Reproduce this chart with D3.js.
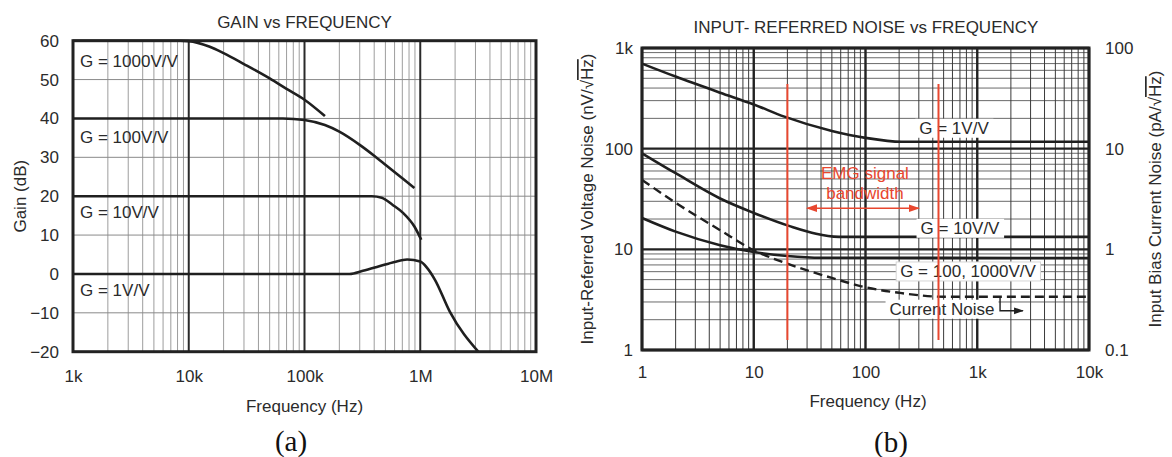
<!DOCTYPE html>
<html>
<head>
<meta charset="utf-8">
<script src="https://cdn.jsdelivr.net/npm/d3@7"></script>
<style>
  body { margin: 0; background: #fff; }
  svg text { font-family: "Liberation Sans", Arial, sans-serif; fill: #2b2b2b; }
</style>
</head>
<body>
<div id="chart-container"></div>
<script>
// ---- panel (a): gain vs frequency ----
const gainFreqTicks = [1e3, 1e4, 1e5, 1e6, 1e7];
const gainFreqLabels = ['1k', '10k', '100k', '1M', '10M'];
const gainTicks = [60, 50, 40, 30, 20, 10, 0, -10, -20];
const gainTickLabels = ['60', '50', '40', '30', '20', '10', '0', '\u221210', '\u221220'];

const gain1000 = [[1e3, 60], [8.5e3, 60], [1e4, 59.9], [1.5e4, 58.5], [2e4, 56.8], [3e4, 54.0], [5e4, 50.3], [7e4, 47.6], [1e5, 44.8], [1.5e5, 40.6]];
const gain100 = [[1e3, 40], [6.5e4, 40], [1e5, 39.6], [1.5e5, 38.3], [2e5, 36.6], [3e5, 33.2], [4e5, 30.4], [5e5, 28.1], [7e5, 24.6], [8.9e5, 22.1]];
const gain10 = [[1e3, 20], [3.8e5, 20], [4.65e5, 19.6], [5.75e5, 17.8], [7.1e5, 15.7], [8.9e5, 12.2], [1.02e6, 8.8]];
const gain1 = [[1e3, 0], [2.45e5, 0], [3.2e5, 0.8], [4.35e5, 1.9], [6e5, 3.1], [7.7e5, 3.7], [1e6, 3.2], [1.15e6, 1.5], [1.34e6, -1.5], [1.8e6, -9.7], [3.17e6, -20]];
const gainCurveNames = ['G = 1000V/V', 'G = 100V/V', 'G = 10V/V', 'G = 1V/V'];

// ---- panel (b): input-referred noise vs frequency ----
const noiseFreqTicks = [1, 10, 100, 1000, 10000];
const noiseFreqLabels = ['1', '10', '100', '1k', '10k'];
const voltTicks = [1000, 100, 10, 1];
const voltLabels = ['1k', '100', '10', '1'];
const currTicks = [100, 10, 1, 0.1];
const currLabels = ['100', '10', '1', '0.1'];

const noiseG1 = [[1, 700], [2, 520], [5, 360], [10, 275], [18.8, 208], [50, 150], [100, 128], [210, 117], [10000, 117]];
const noiseG10 = [[1, 90], [2, 57], [5, 32], [10, 23], [20, 17.3], [58, 13.3], [10000, 13.3]];
const noiseG100 = [[1, 20.5], [2, 15], [5, 11], [10, 9.4], [20, 8.6], [40, 8.25], [10000, 8.2]];
const currentNoise = [[1, 4.9], [2, 2.9], [5, 1.55], [10, 0.98], [20, 0.72], [50, 0.52], [100, 0.42], [200, 0.37], [500, 0.338], [10000, 0.338]]; // pA/rtHz
const noiseCurveNames = ['G = 1V/V', 'G = 10V/V', 'G = 100, 1000V/V', 'Current Noise'];

const emgBand = [20, 450];          // Hz
const emgBandSpan = [1.26, 440];    // nV/rtHz
const emgArrow = [30, 300];         // Hz
const emgArrowLevel = 25.6;         // nV/rtHz
const currentPointer = [[1600, 0.338], [1600, 0.245], [2560, 0.245]]; // Hz, pA/rtHz

const RED = '#e8472f';
const INK = '#1f1f1f';

const svg = d3.select('#chart-container').append('svg')
  .attr('width', 1172)
  .attr('height', 457);

const defs = svg.append('defs');
['arrow-red', 'arrow-black'].forEach((id, i) => {
  defs.append('marker')
    .attr('id', id)
    .attr('viewBox', '0 0 10 10')
    .attr('refX', 9).attr('refY', 5)
    .attr('markerWidth', 7).attr('markerHeight', 7)
    .attr('orient', 'auto-start-reverse')
    .append('path')
    .attr('d', 'M0,1.5 L10,5 L0,8.5 Z')
    .attr('fill', i === 0 ? RED : INK);
});

const isDecade = v => Math.abs(Math.log10(v) - Math.round(Math.log10(v))) < 1e-9;

const styleAxis = (g) => {
  g.select('.domain').remove();
  g.attr('font-family', '"Liberation Sans", Arial, sans-serif').attr('font-size', 17);
  g.selectAll('text').attr('fill', '#2b2b2b');
};

//==================== panel (a) ====================
const xA = d3.scaleLog().domain([1e3, 1e7]).range([73, 536]);
const yA = d3.scaleLinear().domain([-20, 60]).range([351.7, 40.7]);
const gA = svg.append('g');

gA.selectAll('.minor-x').data(xA.ticks().filter(v => !isDecade(v)))
  .enter().append('line')
  .attr('x1', d => xA(d)).attr('x2', d => xA(d))
  .attr('y1', yA(-20)).attr('y2', yA(60))
  .attr('stroke', '#9d9d9d').attr('stroke-width', 1);
gA.selectAll('.grid-y').data(gainTicks)
  .enter().append('line')
  .attr('x1', xA(1e3)).attr('x2', xA(1e7))
  .attr('y1', d => yA(d)).attr('y2', d => yA(d))
  .attr('stroke', '#8a8a8a').attr('stroke-width', 1);
gA.selectAll('.major-x').data(gainFreqTicks)
  .enter().append('line')
  .attr('x1', d => xA(d)).attr('x2', d => xA(d))
  .attr('y1', yA(-20)).attr('y2', yA(60))
  .attr('stroke', '#2a2a2a').attr('stroke-width', 2);

const lineA = d3.line()
  .x(d => xA(d[0]))
  .y(d => yA(d[1]))
  .curve(d3.curveMonotoneX);
[gain1000, gain100, gain10, gain1].forEach(series => {
  gA.append('path')
    .attr('d', lineA(series))
    .attr('fill', 'none')
    .attr('stroke', INK)
    .attr('stroke-width', 2.6);
});

gA.append('rect')
  .attr('x', xA(1e3)).attr('y', yA(60))
  .attr('width', xA(1e7) - xA(1e3)).attr('height', yA(-20) - yA(60))
  .attr('fill', 'none').attr('stroke', '#222').attr('stroke-width', 3);

gA.append('g')
  .attr('transform', 'translate(0,' + yA(-20) + ')')
  .call(d3.axisBottom(xA).tickValues(gainFreqTicks)
    .tickFormat((d, i) => gainFreqLabels[i]).tickSize(0).tickPadding(18))
  .call(styleAxis);
gA.append('g')
  .attr('transform', 'translate(' + xA(1e3) + ',0)')
  .call(d3.axisLeft(yA).tickValues(gainTicks)
    .tickFormat((d, i) => gainTickLabels[i]).tickSize(0).tickPadding(14))
  .call(styleAxis);

// curve labels, at the flat level of each curve
const gainLevels = [60, 40, 20, 0];
const gainLabelDrop = [26, 24.5, 21.7, 22];
gainCurveNames.forEach((name, i) => {
  gA.append('text')
    .attr('x', xA(1.15e3))
    .attr('y', yA(gainLevels[i]) + gainLabelDrop[i])
    .attr('font-size', 17)
    .text(name);
});

gA.append('text')
  .attr('x', (xA(1e3) + xA(1e7)) / 2).attr('y', 28)
  .attr('text-anchor', 'middle').attr('font-size', 17)
  .text('GAIN vs FREQUENCY');
gA.append('text')
  .attr('x', (xA(1e3) + xA(1e7)) / 2).attr('y', 412)
  .attr('text-anchor', 'middle').attr('font-size', 17)
  .text('Frequency (Hz)');
gA.append('text')
  .attr('transform', 'translate(26,' + (yA(20)) + ') rotate(-90)')
  .attr('text-anchor', 'middle').attr('font-size', 17)
  .text('Gain (dB)');
gA.append('text')
  .attr('x', 291).attr('y', 451)
  .attr('text-anchor', 'middle')
  .attr('font-size', 29)
  .style('font-family', '"Liberation Serif", "DejaVu Serif", serif')
  .style('fill', '#111')
  .text('(a)');

//==================== panel (b) ====================
const xB = d3.scaleLog().domain([1, 1e4]).range([642, 1089]);
const yB = d3.scaleLog().domain([1, 1000]).range([350, 48]);
const yB2 = d3.scaleLog().domain([0.1, 100]).range([350, 48]);
const gB = svg.append('g');

gB.selectAll('.minor-y').data(yB.ticks().filter(v => !isDecade(v)))
  .enter().append('line')
  .attr('x1', xB(1)).attr('x2', xB(1e4))
  .attr('y1', d => yB(d)).attr('y2', d => yB(d))
  .attr('stroke', '#6a6a6a').attr('stroke-width', 1);
gB.selectAll('.minor-x').data(xB.ticks().filter(v => !isDecade(v)))
  .enter().append('line')
  .attr('x1', d => xB(d)).attr('x2', d => xB(d))
  .attr('y1', yB(1)).attr('y2', yB(1000))
  .attr('stroke', '#3a3a3a').attr('stroke-width', 1);
gB.selectAll('.major-y').data(voltTicks)
  .enter().append('line')
  .attr('x1', xB(1)).attr('x2', xB(1e4))
  .attr('y1', d => yB(d)).attr('y2', d => yB(d))
  .attr('stroke', '#222').attr('stroke-width', 2.4);
gB.selectAll('.major-x').data(noiseFreqTicks)
  .enter().append('line')
  .attr('x1', d => xB(d)).attr('x2', d => xB(d))
  .attr('y1', yB(1)).attr('y2', yB(1000))
  .attr('stroke', '#222').attr('stroke-width', 2.4);

const lineB = d3.line()
  .x(d => xB(d[0]))
  .y(d => yB(d[1]))
  .curve(d3.curveMonotoneX);
[noiseG1, noiseG10, noiseG100].forEach(series => {
  gB.append('path')
    .attr('d', lineB(series))
    .attr('fill', 'none')
    .attr('stroke', INK)
    .attr('stroke-width', 2.6);
});
const lineB2 = d3.line()
  .x(d => xB(d[0]))
  .y(d => yB2(d[1]))
  .curve(d3.curveMonotoneX);
gB.append('path')
  .attr('d', lineB2(currentNoise))
  .attr('fill', 'none')
  .attr('stroke', INK)
  .attr('stroke-width', 2.4)
  .attr('stroke-dasharray', '9,5');

gB.append('rect')
  .attr('x', xB(1)).attr('y', yB(1000))
  .attr('width', xB(1e4) - xB(1)).attr('height', yB(1) - yB(1000))
  .attr('fill', 'none').attr('stroke', '#222').attr('stroke-width', 3);

gB.append('g')
  .attr('transform', 'translate(0,' + yB(1) + ')')
  .call(d3.axisBottom(xB).tickValues(noiseFreqTicks)
    .tickFormat((d, i) => noiseFreqLabels[i]).tickSize(0).tickPadding(16))
  .call(styleAxis);
gB.append('g')
  .attr('transform', 'translate(' + xB(1) + ',0)')
  .call(d3.axisLeft(yB).tickValues(voltTicks)
    .tickFormat((d, i) => voltLabels[i]).tickSize(0).tickPadding(9))
  .call(styleAxis);
gB.append('g')
  .attr('transform', 'translate(' + xB(1e4) + ',0)')
  .call(d3.axisRight(yB2).tickValues(currTicks)
    .tickFormat((d, i) => currLabels[i]).tickSize(0).tickPadding(16))
  .call(styleAxis);

// labels with white boxes
const noiseLabelPos = [[117, -14], [13.3, -9], [8.2, 13], [0.338, 12]];
const noiseLabelX = [954, 960, 968, 942];
noiseCurveNames.forEach((name, i) => {
  const p = noiseLabelPos[i];
  const cy = (i === 3 ? yB2(p[0]) : yB(p[0])) + p[1];
  const t = gB.append('text')
    .attr('x', noiseLabelX[i]).attr('y', cy)
    .attr('dy', '0.35em')
    .attr('text-anchor', 'middle').attr('font-size', 17)
    .text(name);
  const bb = t.node().getBBox();
  gB.insert('rect', () => t.node())
    .attr('x', bb.x - 4).attr('y', bb.y)
    .attr('width', bb.width + 8).attr('height', bb.height)
    .attr('fill', '#fff')
    .attr('stroke', i === 2 ? '#d6d6d6' : 'none');
});

// pointer from current-noise label to right axis
gB.append('path')
  .attr('d', d3.line().x(d => xB(d[0])).y(d => yB2(d[1]))(currentPointer))
  .attr('fill', 'none')
  .attr('stroke', INK).attr('stroke-width', 1.4)
  .attr('marker-end', 'url(#arrow-black)');

// EMG band annotation
gB.selectAll('.emg').data(emgBand)
  .enter().append('line')
  .attr('x1', d => xB(d)).attr('x2', d => xB(d))
  .attr('y1', yB(emgBandSpan[0])).attr('y2', yB(emgBandSpan[1]))
  .attr('stroke', RED).attr('stroke-width', 2);
gB.append('line')
  .attr('x1', xB(emgArrow[0])).attr('x2', xB(emgArrow[1]))
  .attr('y1', yB(emgArrowLevel)).attr('y2', yB(emgArrowLevel))
  .attr('stroke', RED).attr('stroke-width', 1.6)
  .attr('marker-start', 'url(#arrow-red)')
  .attr('marker-end', 'url(#arrow-red)');
const emgX = (xB(emgArrow[0]) + xB(emgArrow[1])) / 2 + 2;
gB.append('text')
  .attr('x', emgX).attr('y', yB(emgArrowLevel) - 29)
  .attr('text-anchor', 'middle').attr('font-size', 17)
  .style('fill', RED)
  .text('EMG signal');
gB.append('text')
  .attr('x', emgX).attr('y', yB(emgArrowLevel) - 9)
  .attr('text-anchor', 'middle').attr('font-size', 17)
  .style('fill', RED)
  .text('bandwidth');

gB.append('text')
  .attr('x', 866).attr('y', 33)
  .attr('text-anchor', 'middle').attr('font-size', 17)
  .text('INPUT- REFERRED NOISE vs FREQUENCY');
gB.append('text')
  .attr('x', 868).attr('y', 407)
  .attr('text-anchor', 'middle').attr('font-size', 17)
  .text('Frequency (Hz)');

const leftLabel = gB.append('text')
  .attr('transform', 'translate(593,' + ((yB(1) + yB(1000)) / 2) + ') rotate(-90)')
  .attr('text-anchor', 'middle').attr('font-size', 17);
leftLabel.append('tspan').text('Input-Referred Voltage Noise (nV/\u221A');
leftLabel.append('tspan').style('text-decoration', 'overline').text('Hz');
leftLabel.append('tspan').text(')');

const rightLabel = gB.append('text')
  .attr('transform', 'translate(1161,' + ((yB(1) + yB(1000)) / 2) + ') rotate(-90)')
  .attr('text-anchor', 'middle').attr('font-size', 17);
rightLabel.append('tspan').text('Input Bias Current Noise (pA/\u221A');
rightLabel.append('tspan').style('text-decoration', 'overline').text('Hz');
rightLabel.append('tspan').text(')');

gB.append('text')
  .attr('x', 891).attr('y', 452)
  .attr('text-anchor', 'middle')
  .attr('font-size', 29)
  .style('font-family', '"Liberation Serif", "DejaVu Serif", serif')
  .style('fill', '#111')
  .text('(b)');
</script>
</body>
</html>
